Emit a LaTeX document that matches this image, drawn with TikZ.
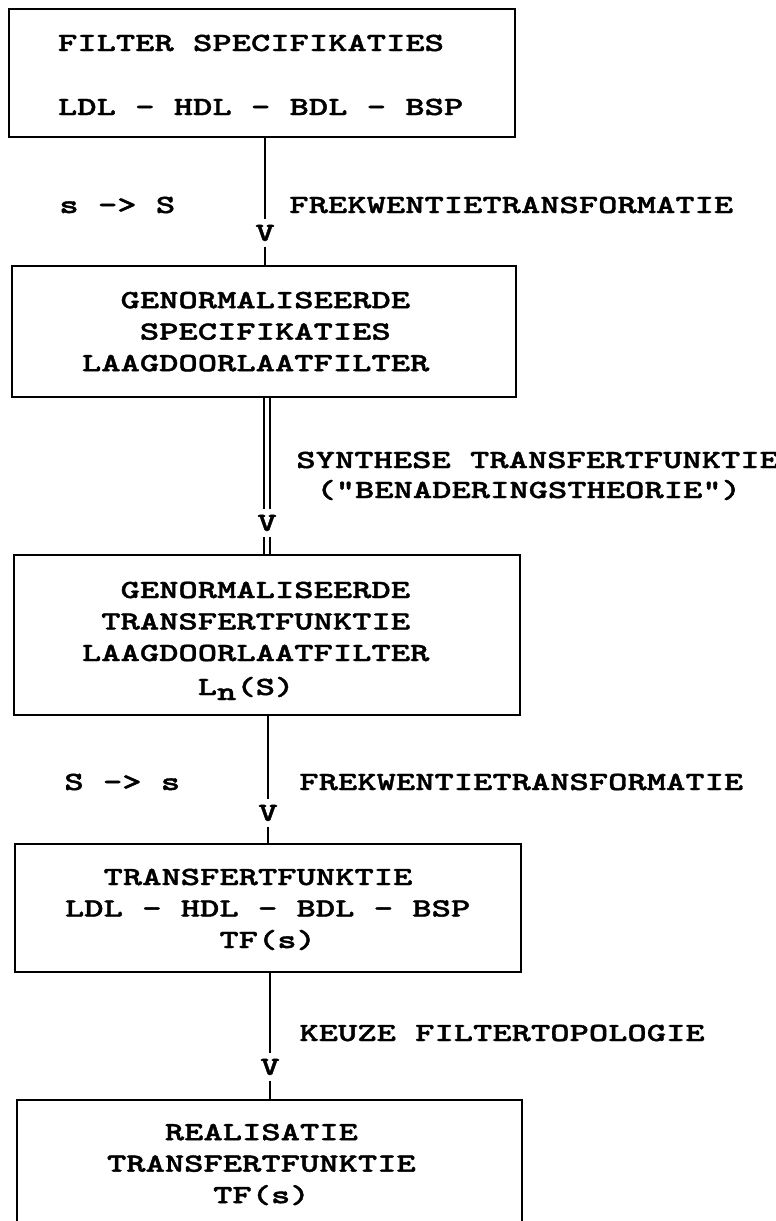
\documentclass[tikz,border=0pt]{standalone}
\usepackage{fontspec}
% heavy typewriter face, widened to the pitch of the printed sheet
\newfontfamily\tw{lmmonolt10-bold.otf}[FakeStretch=1.403,FakeBold=1.5,Ligatures=TeXOff]
\setlength\parindent{0pt}
% one character cell of the current face
\newcommand\gap{\hspace*{\fontcharwd\font`X}}
% \lead{offset}{columns}: indent a line by a length plus whole character cells
\newcommand\lead[2]{\hspace*{#1}\hspace*{#2\fontcharwd\font`X}}
\begin{document}
\begin{tikzpicture}[x=0.5pt,y=-0.5pt,
  every node/.style={font=\tw\fontsize{13.1}{15.75}\selectfont, inner sep=0pt},
  stage/.style={draw, line width=1pt, rectangle, inner sep=0pt, align=left},
  lbl/.style={anchor=base west},
  vmark/.style={inner xsep=0pt, inner ysep=2.6pt},
  wire/.style={line width=1pt},
  dbl/.style={double, line width=0.9pt, double distance=2.2pt}]
\useasboundingbox (0,0) rectangle (776,1221);
\fill[white] (0,0) rectangle (776,1221);
\clip (0,0) rectangle (776,1221);

% process stages
\node[stage, text width=253pt, minimum height=64pt] (b1) at (262,73)
  {\rule{0pt}{10pt}\lead{24.5pt}{0}FILTER\gap SPECIFIKATIES\\[16.25pt]
   \lead{24.5pt}{0}\smash{LDL\gap-\gap HDL\gap-\gap BDL\gap-\gap BSP}};
\node[stage, text width=252pt, minimum height=65.5pt] (b2) at (264,331.5)
  {\rule{0pt}{8pt}\lead{35pt}{2}GENORMALISEERDE\\
   \lead{35pt}{3}SPECIFIKATIES\\
   \lead{35pt}{0}\smash{LAAGDOORLAATFILTER}};
\node[stage, text width=253pt, minimum height=80pt] (b3) at (267,635)
  {\rule{0pt}{11.5pt}\lead{34pt}{2}GENORMALISEERDE\\
   \lead{34pt}{1}TRANSFERTFUNKTIE\\
   \lead{34pt}{0}LAAGDOORLAATFILTER\\[1.25pt]
   \lead{34pt}{6}\smash{L\raisebox{-2.5pt}{n}(S)}};
\node[stage, text width=253pt, minimum height=64pt] (b4) at (268,908)
  {\rule{0pt}{8.5pt}\lead{25pt}{2}TRANSFERTFUNKTIE\\
   \lead{25pt}{0}LDL\gap-\gap HDL\gap-\gap BDL\gap-\gap BSP\\
   \lead{25pt}{8}\smash{TF(s)}};
\node[stage, text width=252.5pt, minimum height=63.5pt] (b5) at (269.5,1163.5)
  {\rule{0pt}{8pt}\lead{45pt}{3}REALISATIE\\
   \lead{45pt}{0}TRANSFERTFUNKTIE\\
   \lead{45pt}{5.5}\smash{TF(s)}};

% arrow heads written as letters on the connectors
\node[vmark] (v1) at (265,233) {V};
\node[vmark] (v2) at (267,523) {V};
\node[vmark] (v3) at (268,813) {V};
\node[vmark] (v4) at (270,1067) {V};

% connectors
\draw[wire] (b1.south -| v1.center) -- (v1.north);
\draw[wire] (v1.south) -- (v1.south |- b2.north);
\draw[dbl] (b2.south -| v2.center) -- (v2.north);
\draw[dbl] (v2.south) -- (v2.south |- b3.north);
\draw[wire] (b3.south -| v3.center) -- (v3.north);
\draw[wire] (v3.south) -- (v3.south |- b4.north);
\draw[wire] (b4.south -| v4.center) -- (v4.north);
\draw[wire] (v4.south) -- (v4.south |- b5.north);

% step labels
\node[lbl] (m1) at (59,213) {s -> S};
\node[lbl] (t1) at (289,213) {FREKWENTIETRANSFORMATIE};
\node[lbl] (t2) at (296,468) {SYNTHESE TRANSFERTFUNKTIE};
\node[lbl] (t2b) at (316,498) {("BENADERINGSTHEORIE")};
\node[lbl] (m3) at (64,790) {S -> s};
\node[lbl] (t3) at (299,790) {FREKWENTIETRANSFORMATIE};
\node[lbl] (t4) at (299,1041) {KEUZE FILTERTOPOLOGIE};
\end{tikzpicture}
\end{document}
